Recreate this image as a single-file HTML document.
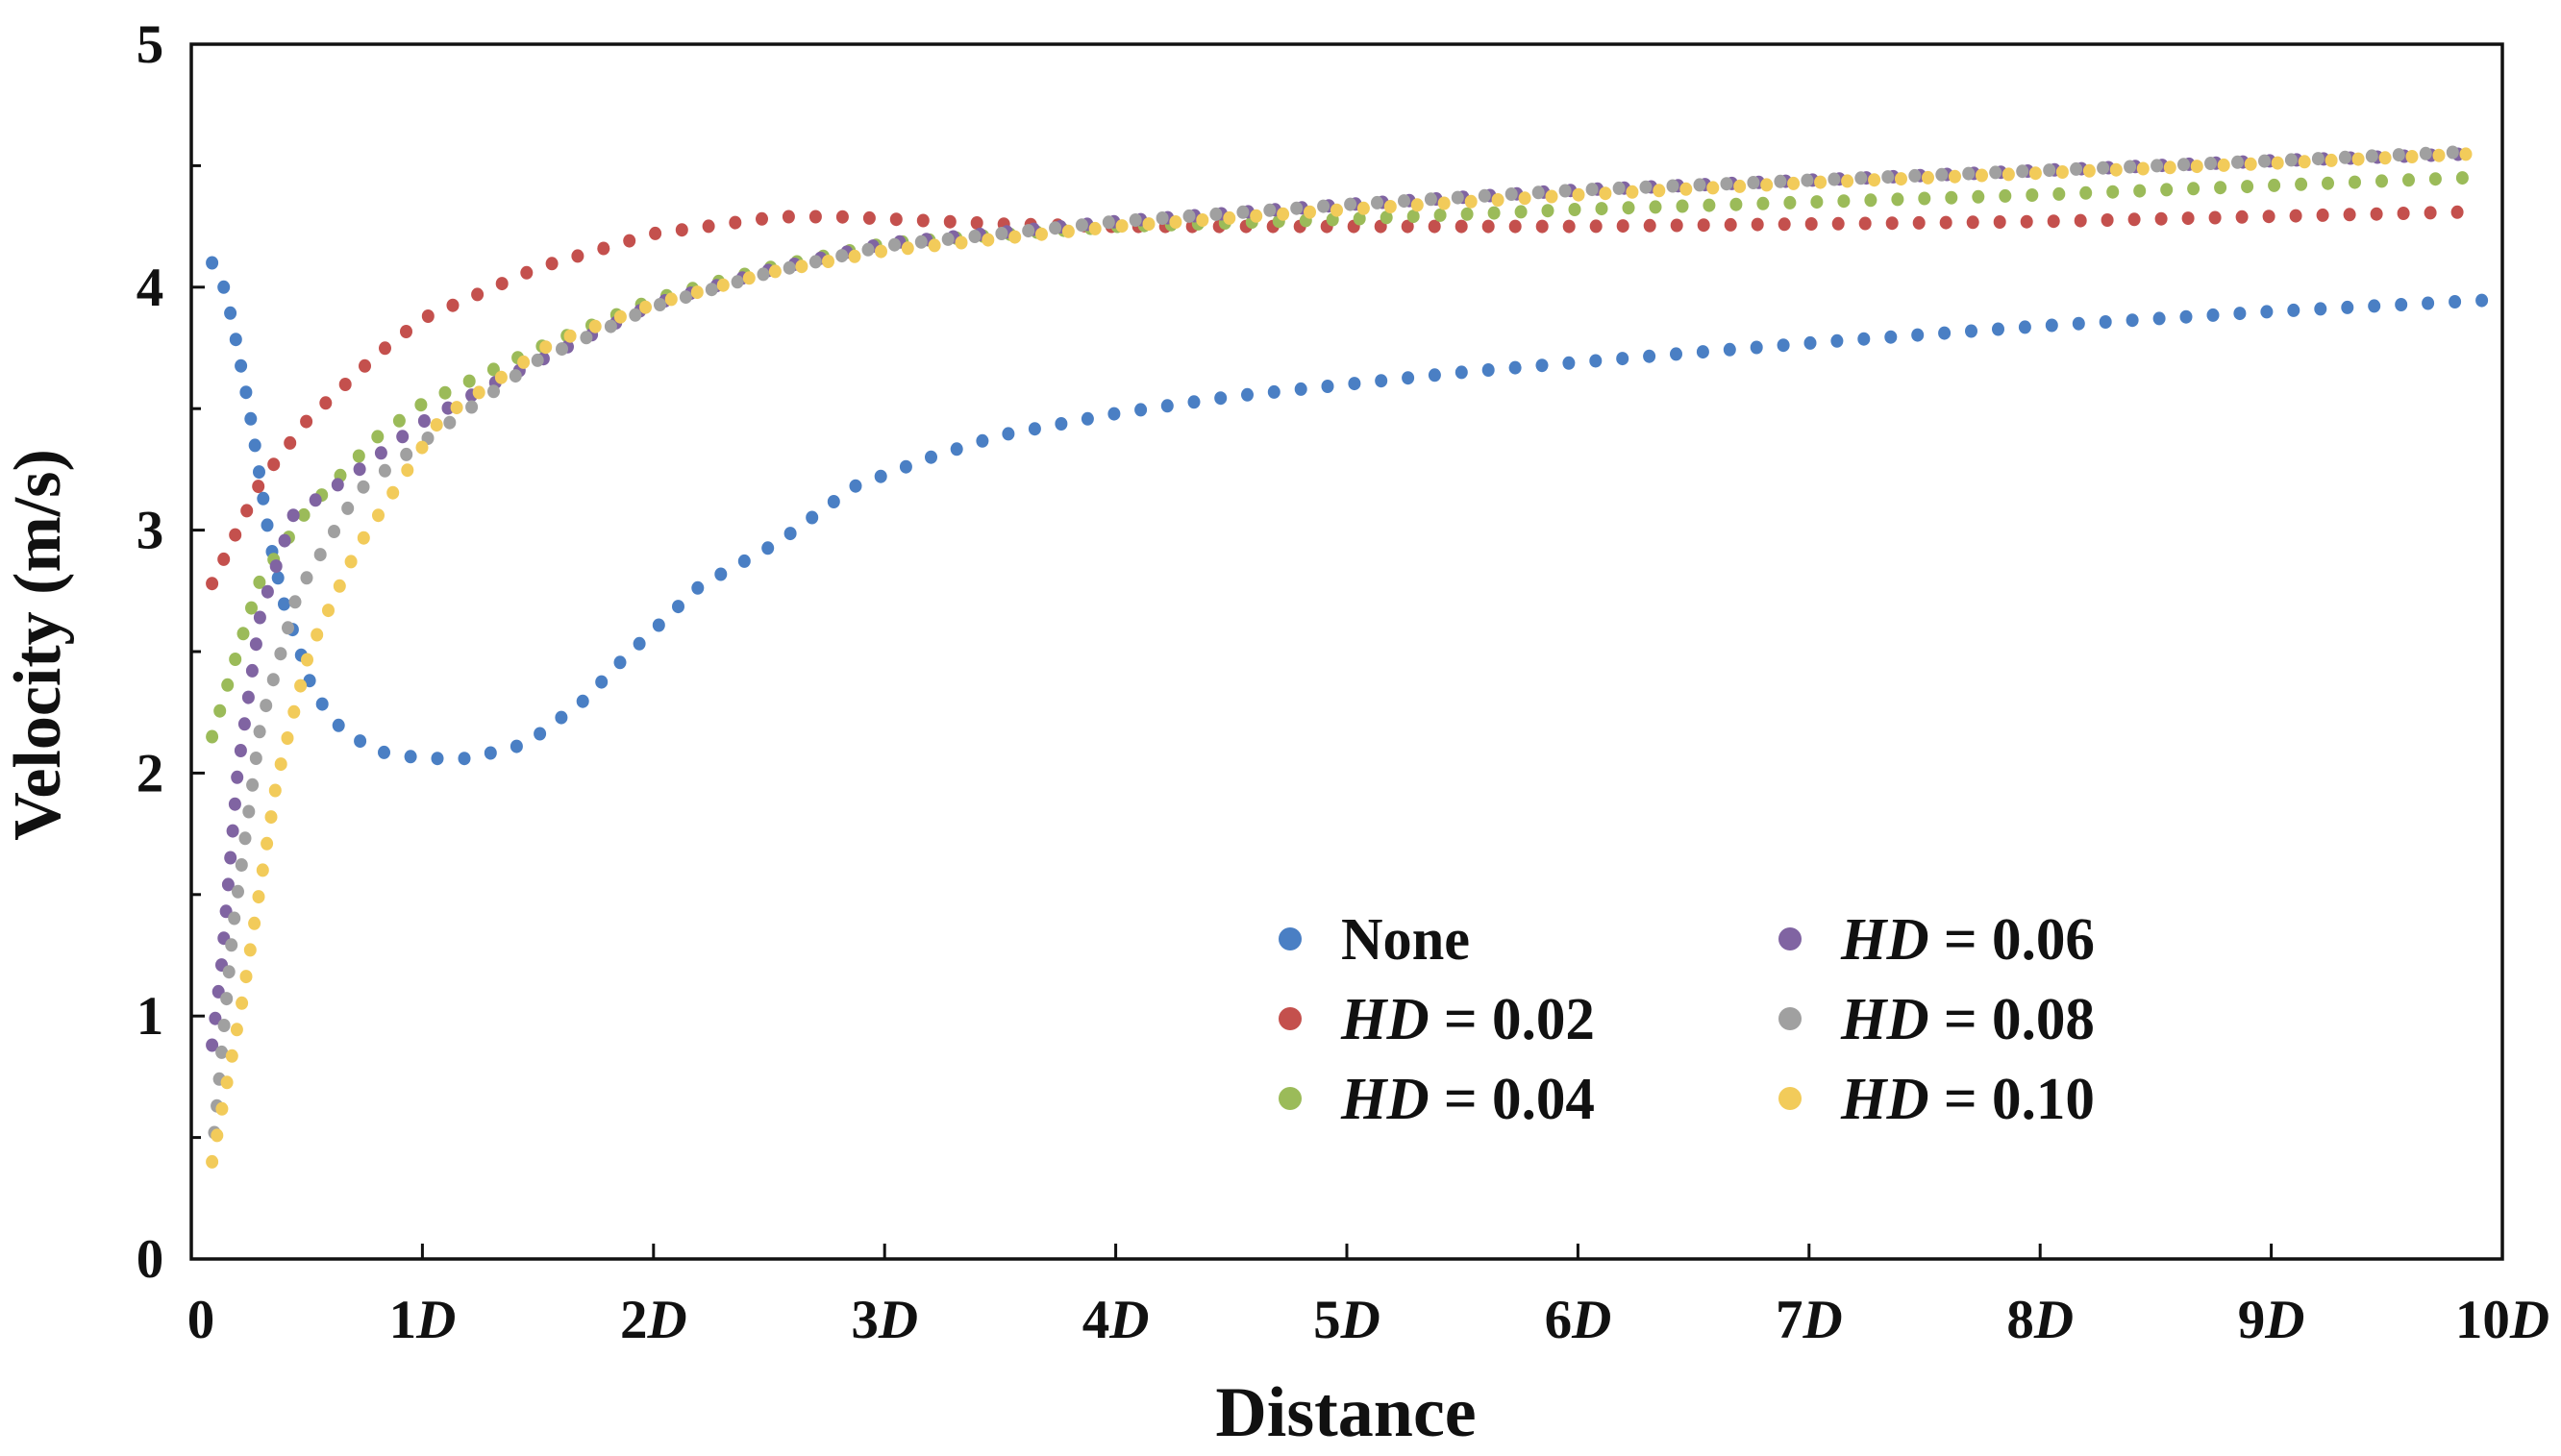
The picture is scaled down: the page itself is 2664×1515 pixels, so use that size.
<!DOCTYPE html>
<html><head><meta charset="utf-8"><style>
html,body{margin:0;padding:0;background:#fff;}
svg{display:block;font-family:"Liberation Serif",serif;font-weight:bold;}
</style></head><body>
<svg id="chart" width="2664" height="1515" viewBox="0 0 2664 1515" xmlns="http://www.w3.org/2000/svg">
<g id="plot"></g>
<g id="axes"></g>
<g id="legend"></g>
</svg>
<script>
const xTicks = [0,1,2,3,4,5,6,7,8,9,10];
const xTickLabels = ["0","1D","2D","3D","4D","5D","6D","7D","8D","9D","10D"];
const yTicks = [0,1,2,3,4,5];
const seriesNames = ["None","HD = 0.02","HD = 0.04","HD = 0.06","HD = 0.08","HD = 0.10"];
const seriesColors = ["#4a7fc4","#c4504d","#9bbb59","#8064a2","#a0a0a0","#f2cb5a"];
const noneX = [0.09,0.15,0.2,0.25,0.3,0.34,0.4,0.53,0.65,0.8,1.0,1.2,1.45,1.7,1.87,2.2,2.54,2.87,3.2,3.5,4,4.5,5,5.5,6.24,7,8,9,10];
const noneV = [4.1,3.98,3.75,3.5,3.2,2.95,2.7,2.33,2.18,2.09,2.06,2.06,2.12,2.3,2.47,2.77,2.95,3.18,3.3,3.39,3.48,3.55,3.6,3.65,3.71,3.77,3.84,3.9,3.95];
const hd02X = [0.09,0.2,0.3,0.5,0.8,1.0,1.5,2.0,2.54,2.8,3.5,4,6,8,9.87];
const hd02V = [2.78,3.0,3.2,3.45,3.72,3.87,4.08,4.22,4.29,4.29,4.26,4.25,4.25,4.27,4.31];
const hd04X = [0.09,0.2,0.3,0.5,0.8,1.0,1.5,2,2.5,3,4,5,6,8,9.83];
const hd04V = [2.15,2.5,2.8,3.08,3.38,3.52,3.75,3.95,4.08,4.18,4.25,4.28,4.32,4.38,4.45];
const hd06X = [0.09,0.13,0.2,0.3,0.44,0.7,0.99,1.3,2,2.5,3,4,5,6,7,8,9,9.9];
const hd06V = [0.88,1.2,2.0,2.66,3.06,3.23,3.44,3.6,3.93,4.07,4.18,4.27,4.34,4.4,4.44,4.48,4.52,4.55];
const hd08X = [0.1,0.18,0.3,0.46,0.72,1.04,1.5,2,2.5,3,4,5,6,7,8,9,9.9];
const hd08V = [0.52,1.36,2.2,2.74,3.16,3.39,3.7,3.92,4.06,4.17,4.27,4.34,4.4,4.44,4.48,4.52,4.56];
const hd10X = [0.09,0.22,0.37,0.51,0.72,1.08,1.56,2,2.5,3,4,5,6,7,8,9,9.9];
const hd10V = [0.40,1.06,1.97,2.5,2.93,3.46,3.77,3.93,4.06,4.15,4.25,4.32,4.38,4.43,4.47,4.51,4.55];
const allX=[noneX,hd02X,hd04X,hd06X,hd08X,hd10X];
const allV=[noneV,hd02V,hd04V,hd06V,hd08V,hd10V];

const L=199,R=2603,T=46,B=1310;
function sx(d){return L+(d/10)*(R-L);}
function sy(v){return B-(v/5)*(B-T);}
const NS="http://www.w3.org/2000/svg";
function mk(tag,attrs,parent){const e=document.createElementNS(NS,tag);for(const k in attrs)e.setAttribute(k,attrs[k]);parent.appendChild(e);return e;}
const plot=document.getElementById('plot'),axes=document.getElementById('axes'),legend=document.getElementById('legend');

allX.forEach((xs,si)=>{
  const g=mk('g',{},plot);
  
  
  const pts=xs.map((x,i)=>[sx(x),sy(allV[si][i])]);
  const step=28;let carry=0;
  const dots=[pts[0]];
  for(let i=1;i<pts.length;i++){
    const [x0,y0]=pts[i-1],[x1,y1]=pts[i];
    const len=Math.hypot(x1-x0,y1-y0);let t=step-carry;
    while(t<=len){dots.push([x0+(x1-x0)*t/len,y0+(y1-y0)*t/len]);t+=step;}
    carry=len-(t-step);
  }
  dots.forEach(p=>{
    const c=mk('ellipse',{cx:p[0].toFixed(1),cy:p[1].toFixed(1),rx:6.5,ry:7,fill:seriesColors[si]},g);
    
    
  });
});

const fr=mk('rect',{x:L,y:T,width:R-L,height:B-T,fill:'none',stroke:'#111','stroke-width':3.5},axes);


xTicks.forEach((d,i)=>{
  const x=sx(d);
  if(i>0&&i<xTicks.length-1) mk('line',{x1:x,y1:B,x2:x,y2:B-16,stroke:'#111','stroke-width':3},axes);
  const t=mk('text',{x:i===0?x+10:x,y:1392,'text-anchor':'middle','font-size':57,fill:'#111'},axes);
  
  
  const lab=xTickLabels[i];
  if(lab.endsWith('D')){t.textContent=lab.slice(0,-1);const ts=mk('tspan',{'font-style':'italic'},t);ts.textContent='D';}
  else t.textContent=lab;
});
yTicks.forEach(v=>{
  const y=sy(v);
  if(v>0&&v<5) mk('line',{x1:L,y1:y,x2:L+14,y2:y,stroke:'#111','stroke-width':3},axes);
  if(v<5) mk('line',{x1:L,y1:sy(v+0.5),x2:L+10,y2:sy(v+0.5),stroke:'#111','stroke-width':3},axes);
  const t=mk('text',{x:156,y:y+19,'text-anchor':'middle','font-size':57,fill:'#111'},axes);
  
  
  t.textContent=String(v);
});
const yt=mk('text',{x:0,y:0,transform:'translate(62,671) rotate(-90)','text-anchor':'middle','font-size':70,fill:'#111'},axes);


yt.textContent='Velocity (m/s)';
const xt=mk('text',{x:1400,y:1494,'text-anchor':'middle','font-size':74,fill:'#111'},axes);


xt.textContent='Distance';

const legX=[1342,1342,1342,1862,1862,1862],legY=[977,1060,1143,977,1060,1143];
seriesNames.forEach((n,i)=>{
  const g=mk('g',{},legend);
  
  
  mk('ellipse',{cx:legX[i],cy:legY[i],rx:12,ry:12,fill:seriesColors[i]},g);
  const t=mk('text',{x:legX[i]+53,y:legY[i]+21,'font-size':62,fill:'#111'},g);
  if(n==='None'){t.textContent='None';t.setAttribute('textLength',134);}
  else{const a=mk('tspan',{'font-style':'italic'},t);a.textContent='HD';const b=mk('tspan',{},t);b.textContent=n.slice(2);t.setAttribute('textLength',264);}
  t.setAttribute('lengthAdjust','spacingAndGlyphs');
});
</script>
</body></html>
